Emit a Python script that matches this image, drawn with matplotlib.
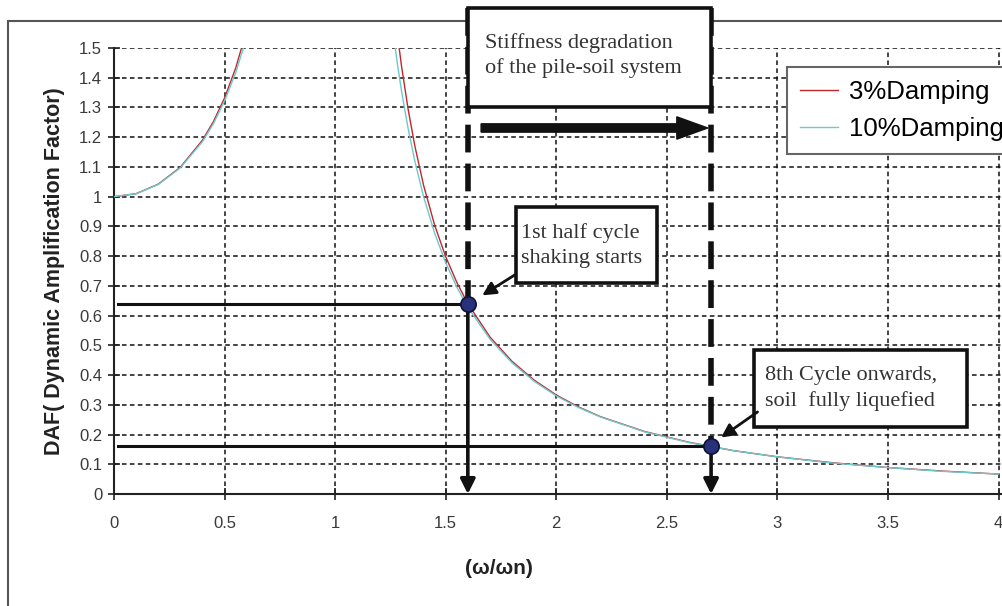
import numpy as np
import matplotlib
matplotlib.use("Agg")
import matplotlib.pyplot as plt
from matplotlib.patches import Rectangle, FancyArrow

# frequency ratio and DAF for the two damping levels
ratio = [0, 0.1, 0.2, 0.3, 0.4, 0.45, 0.5, 0.55, 0.6,
         1.25, 1.28, 1.3, 1.33, 1.36, 1.4, 1.45, 1.5, 1.55, 1.6, 1.7, 1.8, 1.9,
         2.0, 2.1, 2.2, 2.4, 2.6, 2.8, 3.0, 3.25, 3.5, 3.75, 4.0]
daf_3 = [1.000, 1.010, 1.042, 1.099, 1.190, 1.253, 1.332, 1.432, 1.560,
         1.762, 1.555, 1.440, 1.294, 1.172, 1.038, 0.904, 0.798, 0.712, 0.640,
         0.528, 0.446, 0.383, 0.333, 0.293, 0.260, 0.210, 0.174, 0.146, 0.125,
         0.105, 0.089, 0.077, 0.067]
daf_10 = [1.000, 1.010, 1.041, 1.097, 1.185, 1.246, 1.322, 1.416, 1.536,
          1.625, 1.454, 1.356, 1.229, 1.121, 1.000, 0.877, 0.778, 0.696, 0.628,
          0.521, 0.441, 0.379, 0.330, 0.291, 0.259, 0.209, 0.173, 0.146, 0.125,
          0.104, 0.089, 0.076, 0.067]

# operating points: start of shaking and fully liquefied soil
op_x = [1.6, 2.7]
op_daf = [0.64, 0.16]

xticks = [0, 0.5, 1, 1.5, 2, 2.5, 3, 3.5, 4]
xtick_labels = ["0", "0.5", "1", "1.5", "2", "2.5", "3", "3.5", "4"]
yticks = [0, 0.1, 0.2, 0.3, 0.4, 0.5, 0.6, 0.7, 0.8, 0.9, 1.0,
          1.1, 1.2, 1.3, 1.4, 1.5]
ytick_labels = ["0", "0.1", "0.2", "0.3", "0.4", "0.5", "0.6", "0.7", "0.8",
                "0.9", "1", "1.1", "1.2", "1.3", "1.4", "1.5"]

W, H = 1003, 606
fig = plt.figure(figsize=(W / 100, H / 100), dpi=100)
ax = fig.add_axes([114 / W, 112 / H, (W - 114) / W, 446 / H])

sans = "Liberation Sans"
serif = "Liberation Serif"

# outer chart frame
fig.add_artist(Rectangle((8 / W, -0.1), 1.2, 1.1 - 21 / H, transform=fig.transFigure,
                         fill=False, edgecolor="#555555", lw=1.5, zorder=0))

ax.plot(ratio, daf_3, color="#c0282d", lw=1.0, label="3%Damping", zorder=3)
ax.plot(ratio, daf_10, color="#6cc9cc", lw=1.0, label="10%Damping", zorder=3)

ax.set_xlim(0, 4.02)
ax.set_ylim(0, 1.5)
ax.set_xticks(xticks)
ax.set_xticklabels(xtick_labels, fontfamily=sans, fontsize=12, color="#3a3a3a")
ax.set_yticks(yticks)
ax.set_yticklabels(ytick_labels, fontfamily=sans, fontsize=12, color="#3a3a3a")
ax.tick_params(direction="inout", length=9, width=1.2, color="#222222", pad=4)
ax.tick_params(axis="x", pad=11)
ax.grid(True, color="#111111", lw=1.1, linestyle=(0, (3, 2.2)))
for s in ["top", "right"]:
    ax.spines[s].set_visible(False)
for s in ["left", "bottom"]:
    ax.spines[s].set_linewidth(1.5)
    ax.spines[s].set_color("#222222")

ax.set_ylabel("DAF( Dynamic Amplification Factor)", fontfamily=sans, fontsize=15.5,
              fontweight="bold", color="#222222", labelpad=10)
fig.text(499 / W, 1 - 568 / H, "(ω/ωn)", fontfamily=sans, fontsize=15,
         fontweight="bold", color="#222222", ha="center", va="center")

# horizontal guides from the axis to each operating point
for x, y in zip(op_x, op_daf):
    ax.plot([0.018, x], [y, y], color="#111111", lw=2.2, zorder=4)

# vertical arrows down to the axis
for x, y in zip(op_x, op_daf):
    ax.annotate("", xy=(x, 0.0), xytext=(x, y),
                arrowprops=dict(arrowstyle="-|>", color="#111111", lw=2.6,
                                mutation_scale=22, shrinkA=0, shrinkB=0),
                zorder=5)

# stiffness degradation box with thick dashed drop lines
box1_top = 1.635
box1_bot = 1.302
for x, y in zip(op_x, op_daf):
    ax.plot([x, x], [box1_top, y], color="#111111", lw=4,
            linestyle=(0, (5, 2)), clip_on=False, zorder=6)
ax.add_patch(Rectangle((op_x[0], box1_bot), op_x[1] - op_x[0], box1_top - box1_bot,
                       facecolor="white", edgecolor="#111111", lw=2.6,
                       clip_on=False, zorder=7))
ax.text(1.678, 1.475, "Stiffness degradation\nof the pile-soil system", fontfamily=serif,
        fontsize=16, va="center", ha="left", linespacing=1.37, color="#333333",
        clip_on=False, zorder=8)
ax.add_patch(FancyArrow(1.66, 1.231, 1.025, 0, width=0.028, head_width=0.075,
                        head_length=0.14, length_includes_head=True,
                        color="#111111", zorder=6))

# operating point markers
ax.plot(op_x, op_daf, "o", ms=11, mfc="#27327a", mec="#111133", mew=1.2, zorder=9)

# callout boxes
ax.add_patch(Rectangle((1.818, 0.71), 0.638, 0.255, facecolor="white",
                       edgecolor="#111111", lw=2.6, zorder=7))
ax.text(1.84, 0.835, "1st half cycle\nshaking starts", fontfamily=serif,
        fontsize=16, va="center", ha="left", linespacing=1.45, color="#333333", zorder=8)
ax.annotate("", xy=(1.665, 0.668), xytext=(1.815, 0.738),
            arrowprops=dict(arrowstyle="-|>", color="#111111", lw=2,
                            mutation_scale=20, shrinkA=0, shrinkB=0), zorder=9)

ax.add_patch(Rectangle((2.895, 0.225), 0.963, 0.259, facecolor="white",
                       edgecolor="#111111", lw=2.6, zorder=7))
ax.text(2.944, 0.355, "8th Cycle onwards,\nsoil  fully liquefied", fontfamily=serif,
        fontsize=16, va="center", ha="left", linespacing=1.45, color="#333333", zorder=8)
ax.annotate("", xy=(2.745, 0.19), xytext=(2.91, 0.276),
            arrowprops=dict(arrowstyle="-|>", color="#111111", lw=2,
                            mutation_scale=20, shrinkA=0, shrinkB=0), zorder=9)

leg = ax.legend(loc="upper left", bbox_to_anchor=(787 / W, 1 - 67 / H),
                bbox_transform=fig.transFigure, borderaxespad=0, frameon=True,
                fancybox=False, edgecolor="#666666", framealpha=1,
                prop={"family": sans, "size": 18.5}, handlelength=1.5,
                handletextpad=0.4, labelspacing=0.5, borderpad=0.5)
leg.get_frame().set_linewidth(1.5)
leg.set_zorder(10)

fig.savefig("out.png", dpi=100)
